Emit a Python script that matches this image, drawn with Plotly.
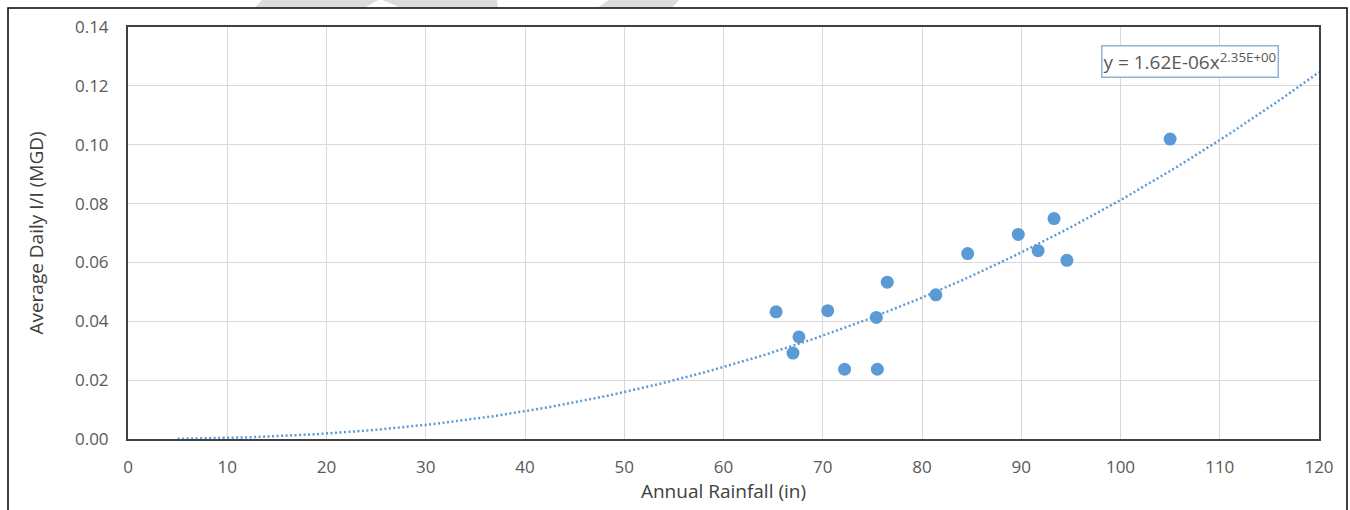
import numpy as np
import plotly.graph_objects as go

rainfall_in = [65.3, 67.0, 67.6, 70.5, 72.2, 75.5, 75.4, 76.5, 81.4, 84.6, 89.7, 91.7, 93.3, 94.6, 105.0]
avg_daily_ii_mgd = [0.0432, 0.0292, 0.0347, 0.0436, 0.0237, 0.0237, 0.0413, 0.0533, 0.0490, 0.0630, 0.0695, 0.0640, 0.0749, 0.0607, 0.1019]

# Power trendline shown on chart: y = a * x^b
trend_a = 1.62e-06
trend_b = 2.35
trend_x_start = 5
trend_x_end = 120

x_ticks = [0, 10, 20, 30, 40, 50, 60, 70, 80, 90, 100, 110, 120]
y_ticks = [0.00, 0.02, 0.04, 0.06, 0.08, 0.10, 0.12, 0.14]

x_title = "Annual Rainfall (in)"
y_title = "Average Daily I/I (MGD)"
equation_main = "y = 1.62E-06x"
equation_exp = "2.35E+00"

BLUE = "#5B9BD5"
FONT = "Open Sans"

W, H = 1350, 510
ML, MR, MT, MB = 128, 31, 27, 71
PW, PH = W - ML - MR, H - MT - MB


def px(x):
    return (x - ML) / PW


def py(y):
    return (H - MB - y) / PH


def path(points):
    return "M " + " L ".join(f"{px(a):.5f},{py(b):.5f}" for a, b in points) + " Z"


tx = np.linspace(trend_x_start, trend_x_end, 300)
ty = trend_a * tx ** trend_b

fig = go.Figure()
fig.add_trace(go.Scatter(
    x=tx, y=ty, mode="lines",
    line=dict(color=BLUE, width=2.5, dash="2px,2.5px"),
    hoverinfo="skip", showlegend=False,
))
fig.add_trace(go.Scatter(
    x=rainfall_in, y=avg_daily_ii_mgd, mode="markers",
    marker=dict(color=BLUE, size=13, line=dict(width=0)),
    showlegend=False,
))

watermark = [
    [(255, 7.5), (263, -1), (380, -1), (365, 7.5)],
    [(380, -1), (400, 7.5), (498, 7.5), (497, -1)],
    [(598, 7.5), (610, -1), (680, -1), (672, 7.5)],
]
shapes = [
    dict(type="path", xref="paper", yref="paper", path=path(p),
         fillcolor="#dcdcdc", line=dict(width=0), layer="below")
    for p in watermark
]
shapes.append(dict(
    type="rect", xref="paper", yref="paper",
    x0=px(8), x1=px(1347), y0=py(520), y1=py(8),
    line=dict(color="black", width=1.5), fillcolor="rgba(0,0,0,0)", layer="above",
))

fig.update_layout(
    width=W, height=H,
    margin=dict(l=ML, r=MR, t=MT, b=MB),
    paper_bgcolor="white", plot_bgcolor="white",
    font=dict(family=FONT, color="#595959"),
    xaxis=dict(
        range=[0, 120], tickvals=x_ticks, ticktext=[str(v) for v in x_ticks],
        showgrid=True, gridcolor="#d9d9d9", gridwidth=1,
        showline=True, linecolor="#404040", linewidth=2, mirror=True,
        zeroline=False, ticks="", ticklabelstandoff=12,
        tickfont=dict(size=17, color="#595959"),
        title=dict(text=x_title, font=dict(size=19, color="#404040"), standoff=6),
    ),
    yaxis=dict(
        range=[0, 0.14], tickvals=y_ticks, ticktext=[f"{v:.2f}" for v in y_ticks],
        showgrid=True, gridcolor="#d9d9d9", gridwidth=1,
        showline=True, linecolor="#404040", linewidth=2, mirror=True,
        zeroline=False, ticks="", ticklabelstandoff=14,
        tickfont=dict(size=17, color="#595959"),
        title=dict(text=y_title, font=dict(size=19, color="#404040"), standoff=26),
    ),
    annotations=[dict(
        x=107.0, y=0.1282, xref="x", yref="y",
        text=f"{equation_main}<sup>{equation_exp}</sup>",
        showarrow=False, font=dict(size=19, color="#595959", family=FONT),
        bordercolor="#8fb3d3", borderwidth=1.5, borderpad=1, bgcolor="white",
    )],
    shapes=shapes,
)

fig.write_html(
    "out.html",
    config={"displayModeBar": False},
    post_script="document.body.style.margin='0px';document.body.style.overflow='hidden';",
)
